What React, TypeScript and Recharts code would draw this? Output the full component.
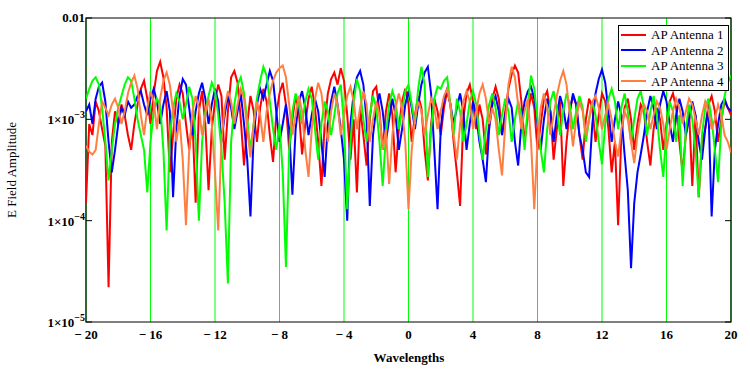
import React from "react";
import { LineChart, Line, XAxis, YAxis, CartesianGrid, ReferenceArea } from "recharts";

// sample positions along x (wavelengths)
const X_START = -20;
const X_STEP = 0.2;

// E field amplitude, in units of 1e-3
const ANT1 = [
  0.15, 0.9, 0.7, 1.5, 1.2, 0.8, 0.55, 0.022, 0.6, 1.2,
  0.9, 1.4, 1.1, 0.7, 0.5, 0.9, 1.4, 2.0, 2.4, 1.6,
  0.9, 1.8, 3.0, 3.7, 2.6, 1.3, 0.3, 0.7, 1.6, 2.2,
  1.8, 0.9, 0.5, 1.0, 0.15, 1.2, 1.9, 0.9, 0.2, 0.8,
  1.5, 2.2, 1.7, 0.4, 1.2, 2.6, 3.0, 2.3, 1.0, 0.35,
  0.9, 1.7, 1.2, 0.6, 1.3, 2.0, 1.5, 0.7, 0.38, 1.1,
  1.8, 2.3, 1.4, 0.5, 1.0, 1.7, 1.2, 0.45, 0.9, 1.6,
  2.1, 1.3, 0.6, 0.22, 0.9, 1.8, 2.5, 2.9, 2.2, 3.2,
  2.4, 1.1, 0.4, 1.0, 0.19, 1.3, 0.7, 0.35, 1.0, 1.9,
  2.1, 1.2, 0.5, 1.2, 1.8, 1.1, 0.3, 0.8, 1.5, 2.0,
  1.4, 0.6, 1.1, 1.7, 1.3, 0.5, 0.25, 0.9, 1.6, 1.2,
  0.7, 1.3, 1.9, 1.4, 0.6, 0.3, 0.14, 1.0, 1.8, 2.2,
  1.5, 0.8, 1.4, 1.0, 0.45, 0.9, 1.6, 2.1, 1.6, 0.7,
  1.2, 2.0, 2.8, 3.4, 2.9, 1.5, 0.6, 1.1, 1.8, 1.3,
  0.5, 0.9, 1.6, 1.9, 1.2, 0.4, 0.8, 1.5, 0.22, 0.6,
  1.2, 1.7, 1.4, 0.7, 0.4, 1.0, 1.6, 1.3, 0.6, 1.1,
  1.8, 1.5, 0.8, 0.3, 0.6, 0.09, 0.7, 1.3, 1.6, 1.0,
  0.5, 0.9, 1.4, 1.2, 0.6, 0.35, 0.8, 1.3, 1.0, 0.5,
  0.9, 1.5, 1.8, 1.3, 0.6, 0.3, 0.7, 1.2, 0.22, 1.1,
  0.17, 0.6, 0.8, 1.4, 1.7, 1.2, 0.6, 1.0, 1.5, 1.3,
  1.1,
];

const ANT2 = [
  1.2, 1.4, 0.9, 1.6, 2.1, 2.3, 1.5, 0.6, 0.3, 0.5,
  0.9, 1.3, 1.1, 1.5, 1.3, 1.4, 1.7, 1.9, 1.4, 1.1,
  1.6, 2.0, 1.5, 0.9, 1.4, 1.9, 1.2, 0.17, 0.8, 1.7,
  2.5, 2.2, 1.3, 0.7, 1.2, 1.8, 2.3, 1.6, 0.9, 1.4,
  2.0, 1.5, 0.6, 1.1, 1.7, 1.3, 0.8, 1.2, 1.8, 0.9,
  0.4, 0.11, 0.7, 1.4, 2.0, 1.6, 2.2, 3.0, 2.4, 1.2,
  0.6, 0.9, 1.4, 0.8, 0.18, 0.8, 1.5, 1.9, 1.3, 0.7,
  1.1, 1.6, 1.2, 0.6, 0.27, 0.9, 1.5, 2.1, 1.4, 0.8,
  0.4, 0.1, 0.9, 1.8, 2.6, 3.0, 2.2, 1.0, 0.14, 0.7,
  1.3, 1.8, 1.2, 0.6, 1.0, 1.6, 1.1, 0.5, 0.8, 1.4,
  1.9, 1.3, 0.8, 1.4, 2.2, 2.9, 3.3, 1.8, 0.5, 0.13,
  0.8, 1.6, 2.0, 1.4, 0.9, 1.3, 1.8, 1.2, 0.5, 0.9,
  1.5, 1.1, 0.6, 0.4, 0.24, 0.8, 1.4, 1.7, 1.2, 0.7,
  1.1, 1.6, 1.3, 0.6, 0.35, 0.9, 1.5, 1.9, 2.1, 1.6,
  0.9, 0.5, 1.0, 1.6, 1.2, 0.6, 1.1, 1.7, 1.3, 0.8,
  1.2, 1.8, 1.4, 0.7, 0.5, 0.3, 0.27, 0.9, 1.8, 2.5,
  3.1, 2.3, 1.2, 0.6, 1.0, 1.5, 1.1, 0.45, 0.2, 0.034,
  0.15, 0.3, 0.45, 0.7, 1.2, 1.7, 1.3, 0.8, 1.4, 1.9,
  1.5, 0.9, 0.6, 1.1, 1.6, 1.2, 0.7, 1.0, 1.5, 1.1,
  0.6, 0.4, 0.8, 1.3, 0.11, 0.5, 0.9, 1.4, 1.6, 1.3,
  1.2,
];

const ANT3 = [
  1.6, 2.0, 2.4, 2.6, 2.2, 1.3, 0.6, 0.25, 0.5, 0.9,
  1.3, 1.7, 2.2, 2.6, 2.4, 1.6, 1.0, 0.7, 0.5, 0.19,
  0.6, 1.2, 1.6, 1.4, 0.5, 0.08, 0.7, 1.3, 1.8, 1.5,
  1.0, 1.4, 2.1, 1.6, 0.6, 0.1, 0.6, 1.2, 1.7, 2.3,
  1.9, 1.1, 0.5, 0.15, 0.024, 0.6, 1.4, 2.2, 2.6, 1.8,
  1.0, 0.5, 0.9, 1.6, 2.4, 3.3, 2.7, 1.5, 0.8, 0.5,
  0.9, 0.3, 0.035, 0.5, 1.2, 1.8, 1.4, 0.9, 1.5, 2.0,
  1.6, 0.8, 0.4, 0.9, 1.5, 1.2, 0.7, 1.1, 1.8, 2.2,
  0.9, 0.13, 0.6, 1.5, 2.5, 1.9, 1.0, 0.6, 1.1, 1.7,
  1.3, 0.6, 0.22, 0.7, 1.4, 1.9, 1.5, 0.8, 1.2, 1.9,
  2.2, 1.4, 0.9, 2.0, 3.3, 2.2, 0.27, 0.8, 1.6, 2.1,
  2.0, 2.4, 2.6, 1.4, 0.7, 1.6, 1.2, 0.6, 0.9, 1.5,
  1.9, 1.4, 0.7, 0.4, 0.8, 1.4, 1.8, 1.3, 0.7, 1.1,
  1.6, 1.2, 0.6, 1.0, 1.5, 1.1, 0.5, 1.4, 2.7, 2.0,
  1.0, 0.5, 0.3, 0.8, 1.5, 1.9, 1.3, 0.7, 1.2, 1.8,
  1.4, 0.8, 1.2, 1.7, 1.3, 0.6, 1.0, 1.5, 1.1, 0.6,
  0.36, 0.9, 1.6, 2.0, 1.5, 0.8, 1.3, 1.8, 1.2, 0.6,
  1.0, 1.6, 1.9, 1.3, 0.7, 1.2, 1.7, 1.1, 0.5, 0.27,
  0.8, 1.5, 1.2, 0.6, 1.1, 0.22, 0.8, 1.4, 1.0, 0.5,
  0.17, 0.7, 1.3, 1.6, 1.0, 0.5, 0.24, 0.9, 1.7, 2.3,
  2.7,
];

const ANT4 = [
  0.55, 0.48, 0.45, 0.5, 0.9, 1.5, 1.3, 1.1, 1.4, 1.6,
  1.3, 0.9, 1.2, 1.8, 2.3, 2.7, 2.0, 1.1, 0.7, 1.3,
  1.9, 1.5, 0.8, 1.6, 2.4, 2.9, 2.2, 1.2, 0.6, 1.0,
  0.4, 0.09, 0.5, 1.2, 1.7, 1.3, 0.7, 1.1, 1.6, 0.9,
  0.3, 0.08, 0.6, 1.3, 1.9, 1.5, 0.9, 1.4, 2.0, 1.6,
  0.8, 0.42, 0.9, 1.5, 1.1, 0.6, 1.2, 1.8, 2.4, 2.9,
  3.2, 3.4, 2.6, 1.4, 0.7, 1.1, 1.7, 1.2, 0.5, 0.27,
  0.8, 1.6, 2.3, 1.8, 1.0, 0.6, 1.2, 1.8, 1.4, 0.7,
  1.1, 1.7, 2.1, 1.5, 0.8, 1.3, 1.9, 1.4, 0.6, 1.0,
  1.5, 1.1, 0.5, 0.8, 0.23, 0.7, 1.3, 1.8, 1.3, 0.6,
  0.13, 0.5, 1.0, 1.5, 1.2, 0.7, 1.1, 1.6, 1.3, 0.8,
  1.2, 1.7, 2.0, 1.4, 0.7, 0.4, 0.9, 1.5, 1.9, 1.5,
  0.8, 1.2, 1.8, 2.2, 1.6, 0.9, 1.3, 1.0, 0.5, 0.28,
  0.9, 2.2, 3.3, 2.6, 1.4, 0.8, 1.2, 1.6, 0.6, 0.13,
  0.6, 1.3, 1.8, 1.3, 0.7, 1.1, 1.7, 2.4, 3.0, 2.2,
  1.1, 0.54, 1.0, 1.5, 1.2, 0.7, 1.0, 1.5, 1.7, 1.3,
  0.8, 1.1, 1.4, 1.0, 0.6, 0.43, 0.8, 1.2, 1.0, 0.6,
  0.37, 0.7, 1.1, 1.4, 1.2, 0.8, 1.1, 1.5, 1.3, 0.9,
  0.5, 0.8, 1.2, 1.6, 1.3, 0.9, 1.2, 1.6, 1.4, 1.0,
  0.7, 1.1, 1.5, 1.2, 0.8, 1.0, 1.4, 1.1, 0.7, 0.6,
  0.47,
];

const UNIT = 1e-3;

const SERIES = [
  { key: "a1", name: "AP Antenna 1", color: "#ff0000", values: ANT1 },
  { key: "a2", name: "AP Antenna 2", color: "#0000ff", values: ANT2 },
  { key: "a3", name: "AP Antenna 3", color: "#00ff00", values: ANT3 },
  { key: "a4", name: "AP Antenna 4", color: "#ff7f40", values: ANT4 },
];

const X_TICKS = [-20, -16, -12, -8, -4, 0, 4, 8, 12, 16, 20];
const X_TICK_LABELS = ["\u2212 20", "\u2212 16", "\u2212 12", "\u2212 8", "\u2212 4", "0", "4", "8", "12", "16", "20"];
const Y_TICKS = [1e-5, 1e-4, 1e-3, 1e-2];
const Y_TICK_EXP = ["\u22125", "\u22124", "\u22123", ""];

const data = ANT1.map((_, i) => {
  const row: Record<string, number> = { x: X_START + i * X_STEP };
  SERIES.forEach((s) => {
    row[s.key] = s.values[i] * UNIT;
  });
  return row;
});

const FONT = "'Times New Roman', 'Liberation Serif', Times, serif";

function XTick({ x, y, payload }: any) {
  const i = X_TICKS.indexOf(payload.value);
  return (
    <text x={x} y={y + 15} textAnchor="middle" fontFamily={FONT} fontSize={13} fontWeight="bold" fill="#000">
      {X_TICK_LABELS[i]}
    </text>
  );
}

function YTick({ x, y, payload }: any) {
  const i = Y_TICKS.indexOf(payload.value);
  const exp = Y_TICK_EXP[i];
  return (
    <g>
      <line x1={x} x2={x + 6} y1={y} y2={y} stroke="#000" />
      {exp ? (
        <text x={x - 1} y={y + 5} textAnchor="end" fontFamily={FONT} fontSize={13} fontWeight="bold" fill="#000">
          1×10<tspan dy={-6} fontSize={10}>{exp}</tspan>
        </text>
      ) : (
        <text x={x - 1} y={y + 4} textAnchor="end" fontFamily={FONT} fontSize={13} fontWeight="bold" fill="#000">
          0.01
        </text>
      )}
    </g>
  );
}

function RightTick({ x, y }: any) {
  return <line x1={x - 6} x2={x} y1={y} y2={y} stroke="#000" />;
}

function LegendBox() {
  return (
    <div
      style={{
        position: "absolute",
        left: 618,
        top: 25,
        border: "1px solid #000",
        background: "#fff",
        padding: "1px 5px 1px 2px",
        fontFamily: FONT,
        fontSize: 13,
        lineHeight: "15.5px",
      }}
    >
      {SERIES.map((s) => (
        <div key={s.key} style={{ display: "flex", alignItems: "center", whiteSpace: "nowrap" }}>
          <span style={{ display: "inline-block", width: 25, height: 2, background: s.color, marginRight: 5 }} />
          {s.name}
        </div>
      ))}
    </div>
  );
}

export default function App() {
  return (
    <div style={{ position: "fixed", left: 0, top: 0, width: 750, height: 369, background: "#fff" }}>
      <LineChart width={750} height={369} data={data} margin={{ top: 18, right: 0, bottom: 17, left: 0 }}>
        <CartesianGrid horizontal={false} stroke="#00ff00" strokeWidth={1} />
        <XAxis
          dataKey="x"
          type="number"
          domain={[-20, 20]}
          ticks={X_TICKS}
          allowDataOverflow
          height={30}
          axisLine={false}
          tickLine={false}
          tickSize={0}
          tick={<XTick />}
          interval={0}
        />
        <YAxis
          yAxisId="l"
          scale="log"
          type="number"
          domain={[1e-5, 1e-2]}
          ticks={Y_TICKS}
          allowDataOverflow
          width={86}
          axisLine={false}
          tickLine={false}
          tickSize={0}
          tickMargin={0}
          tick={<YTick />}
          interval={0}
        />
        <YAxis
          yAxisId="r"
          orientation="right"
          scale="log"
          type="number"
          domain={[1e-5, 1e-2]}
          ticks={Y_TICKS}
          allowDataOverflow
          width={19}
          axisLine={false}
          tickLine={false}
          tickSize={0}
          tickMargin={0}
          tick={<RightTick />}
          interval={0}
        />
        {SERIES.map((s) => (
          <Line
            key={s.key}
            yAxisId="l"
            dataKey={s.key}
            name={s.name}
            stroke={s.color}
            strokeWidth={2}
            dot={false}
            type="linear"
            isAnimationActive={false}
          />
        ))}
        <ReferenceArea yAxisId="l" x1={-20} x2={20} y1={1e-5} y2={1e-2} stroke="#000" strokeWidth={1.2} fill="none" fillOpacity={0} ifOverflow="visible" />
      </LineChart>
      <LegendBox />
      <div
        style={{
          position: "absolute",
          left: 12,
          top: 170,
          transform: "translate(-50%, -50%) rotate(-90deg)",
          fontFamily: FONT,
          fontSize: 13,
          whiteSpace: "nowrap",
        }}
      >
        E Field Amplitude
      </div>
      <div
        style={{
          position: "absolute",
          left: 409,
          top: 358,
          transform: "translate(-50%, -50%)",
          fontFamily: FONT,
          fontSize: 13,
          fontWeight: "bold",
          whiteSpace: "nowrap",
        }}
      >
        Wavelengths
      </div>
    </div>
  );
}
